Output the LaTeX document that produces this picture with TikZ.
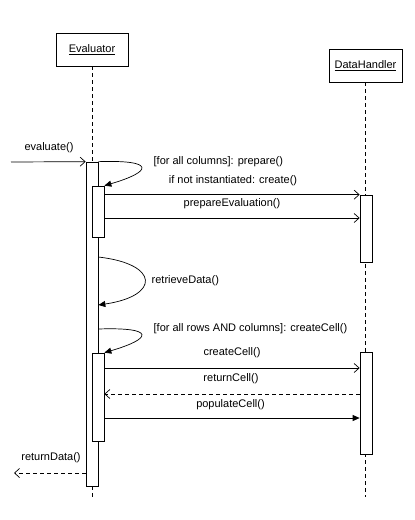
\documentclass[tikz,border=0pt]{standalone}
\usepackage{fontspec}
\setmainfont{Liberation Sans}
\usetikzlibrary{arrows.meta}

\begin{document}
\begin{tikzpicture}[x=1pt, y=-1pt, line width=0.7pt, font=\fontsize{11}{13}\selectfont,
  objbox/.style={draw, fill=white, minimum width=72pt, minimum height=33pt, inner sep=0pt},
  actbox/.style={draw, fill=white, minimum width=12pt, inner sep=0pt},
  lifeline/.style={dash pattern=on 4pt off 3pt},
  call/.style={-{Triangle[length=7pt,width=6pt]}},
  async/.style={-{Straight Barb[length=5pt,width=9pt]}},
  reply/.style={dash pattern=on 4pt off 3pt, -{Straight Barb[length=5pt,width=9pt]}}]
\useasboundingbox (0,0) rectangle (415,520);

% objetos e linhas de vida
\node [objbox](evaluator) at (92, 49.5){\underline{Evaluator}};
\node [objbox, minimum width=73pt](datahandler) at (365.5, 65.5){\underline{DataHandler}};
\coordinate (evEnd) at (92, 497);
\coordinate (dhEnd) at (365.5, 497);
\draw [lifeline](evaluator.south) -- (evEnd);
\draw [lifeline](datahandler.south) -- (dhEnd);

% barras de ativacao
\node [actbox, minimum height=324pt](evMain) at (92, 324){};
\node [actbox, minimum height=51pt](evPrep) at (98, 211.5){};
\node [actbox, minimum height=88pt](evCell) at (98, 397){};
\node [actbox, minimum height=67pt](dhPrep) at (366, 228.5){};
\node [actbox, minimum height=102pt](dhCell) at (366, 403){};

% linhas das mensagens
\coordinate (evIn) at (11, 162);
\coordinate (evOut) at (14, 473);
\coordinate (rowPrepEval) at (0, 218);
\coordinate (rowRetrA) at (0, 257);
\coordinate (rowRetrB) at (0, 305);
\coordinate (rowCellLoop) at (0, 329);
\coordinate (rowCreateCell) at (0, 368);
\coordinate (rowReturnCell) at (0, 394);
\coordinate (rowPopulate) at (0, 418);
\coordinate (rowReturnData) at (0, 473);

% mensagens
\draw [async](evIn) -- (evMain.north west);
\node (lblEvaluate) at (49, 148){evaluate()};
\draw [call](evMain.north east) .. controls +(58,-2) and +(48,-14) .. (evPrep.north east);
\node [anchor=west](lblPrepare) at (150, 162){[for all columns]: prepare()};
\draw [async](evPrep.east |- dhPrep.north) -- (dhPrep.north west);
\node (lblCreate) at (233, 181){if not instantiated: create()};
\draw [async](evPrep.east |- rowPrepEval) -- (dhPrep.west |- rowPrepEval);
\node (lblPrepEval) at (232, 204){prepareEvaluation()};
\draw [call](evMain.east |- rowRetrA) .. controls (160, 264) and (160, 296) .. (evMain.east |- rowRetrB);
\node [anchor=west](lblRetrieve) at (148, 281){retrieveData()};
\draw [call](evMain.east |- rowCellLoop) .. controls +(58,-2) and +(48,-14) .. (evCell.north east);
\node [anchor=west](lblCellLoop) at (150, 329){[for all rows AND columns]: createCell()};
\draw [async](evCell.east |- rowCreateCell) -- (dhCell.west |- rowCreateCell);
\node (lblCreateCell) at (232, 353){createCell()};
\draw [reply](dhCell.west |- rowReturnCell) -- (evCell.east |- rowReturnCell);
\node (lblReturnCell) at (231, 379){returnCell()};
\draw [call](evCell.east |- rowPopulate) -- (dhCell.west |- rowPopulate);
\node (lblPopulate) at (230.5, 405){populateCell()};
\draw [reply](evMain.west |- rowReturnData) -- (evOut);
\node (lblReturnData) at (51, 458){returnData()};

\end{tikzpicture}
\end{document}
